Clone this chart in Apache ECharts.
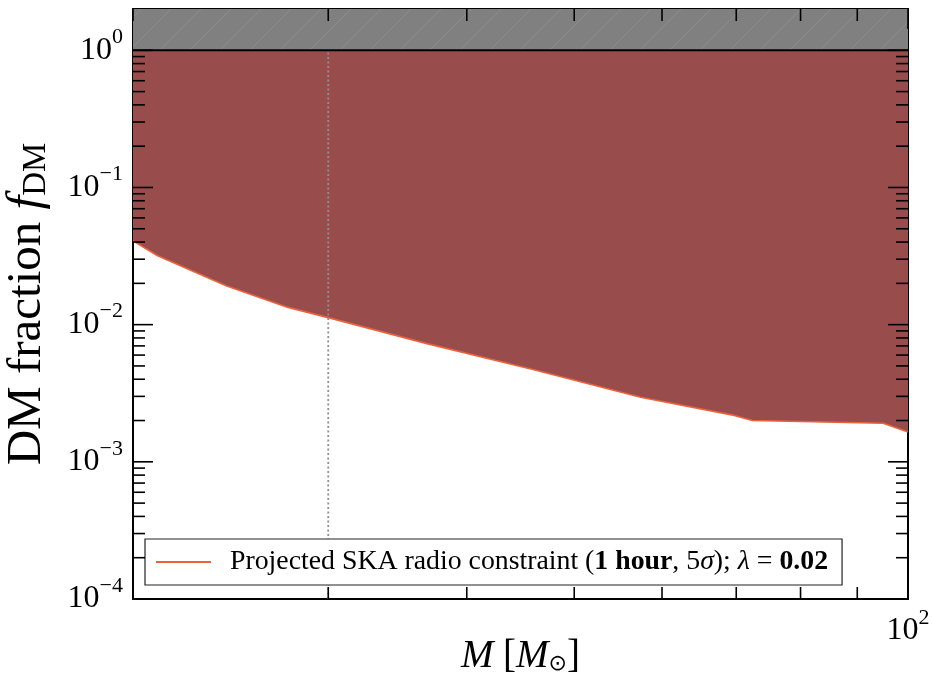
<!DOCTYPE html>
<html><head><meta charset="utf-8">
<script src="https://cdn.jsdelivr.net/npm/echarts@6/dist/echarts.min.js"></script>
<style>html,body{margin:0;padding:0;background:#fff}#c{width:932px;height:681px}</style>
</head><body><div id="c"></div>
<script>
// ---- data ----
const massValues = [20.0, 21.05, 24.3, 27.6, 30.0, 36.9, 45.9, 57.4, 69.7, 72.4, 95.0, 100];
const fdmValues  = [0.0408, 0.0318, 0.0191, 0.01336, 0.01125, 0.00724, 0.00471, 0.00296, 0.00218, 0.00200, 0.00191, 0.00165];
const xRange = [20, 100];
const yRange = [1e-4, 2];
const excludedLevel = 1;
const referenceMass = 30;
const yMajorTicks = [1e-4, 1e-3, 1e-2, 1e-1, 1];
const yMinorMultipliers = [2, 3, 4, 5, 6, 7, 8, 9];
const xMinorTicks = [20, 30, 40, 50, 60, 70, 80, 90];
const xMajorTicks = [100];
const seriesName = 'Projected SKA radio constraint';

const FONT = 'Liberation Serif';
const chart = echarts.init(document.getElementById('c'), null, {renderer: 'canvas'});

// hatch pattern for the grey band
const pat = document.createElement('canvas');
pat.width = 30; pat.height = 30;
const g = pat.getContext('2d');
g.fillStyle = '#808080'; g.fillRect(0, 0, 30, 30);
g.strokeStyle = '#8d8d8d'; g.lineWidth = 1;
g.beginPath();
g.moveTo(0, 30); g.lineTo(30, 0);
g.moveTo(-5, 5); g.lineTo(5, -5);
g.moveTo(25, 35); g.lineTo(35, 25);
g.stroke();

const curveData = massValues.map((m, i) => [m, fdmValues[i]]);
const refLineData = [[referenceMass, yRange[0]], [referenceMass, excludedLevel]];
const greyData = [[xRange[0], excludedLevel], [xRange[1], excludedLevel]];

function isPow10(v) {
  const e = Math.round(Math.log10(v));
  return Math.abs(v - Math.pow(10, e)) / Math.pow(10, e) < 1e-6 ? e : null;
}
const labelRich = {
  b: {fontFamily: FONT, fontSize: 32, color: '#000'},
  s: {fontFamily: FONT, fontSize: 22, color: '#000', padding: [0, 0, 26, 0]}
};

chart.setOption({
  animation: false,
  backgroundColor: '#fff',
  grid: {left: 133, right: 24, top: 9, bottom: 82, show: true, borderColor: '#000', borderWidth: 2,
         backgroundColor: 'transparent', containLabel: false, outerBoundsMode: 'none'},
  xAxis: {
    type: 'log', logBase: 10, min: xRange[0], max: xRange[1],
    axisLine: {show: true, lineStyle: {color: '#000', width: 2}},
    axisTick: {show: false}, splitLine: {show: false}, minorTick: {show: false},
    axisLabel: {
      margin: 8, showMinLabel: false,
      formatter: v => { const e = isPow10(v); return (e === null || v < 99) ? '' : '{b|10}{s|' + e + '}'; },
      rich: labelRich
    },
    name: '{i|M} {r|[}{i|M}{sub|⊙}{r|]}',
    nameLocation: 'middle', nameGap: 38, nameMoveOverlap: false,
    nameTextStyle: {
      fontFamily: FONT, fontSize: 38, color: '#000',
      rich: {
        i: {fontFamily: FONT, fontSize: 39, fontStyle: 'italic', color: '#000'},
        r: {fontFamily: FONT, fontSize: 39, color: '#000'},
        sub: {fontFamily: 'DejaVu Sans', fontSize: 22, color: '#000', padding: [16, 0, 0, 0]}
      }
    }
  },
  yAxis: {
    type: 'log', logBase: 10, min: yRange[0], max: yRange[1],
    axisLine: {show: true, lineStyle: {color: '#000', width: 2}},
    axisTick: {show: false}, splitLine: {show: false}, minorTick: {show: false},
    axisLabel: {
      margin: 10,
      formatter: v => { const e = isPow10(v); return e === null ? '' : '{b|10}{s|' + (e < 0 ? '−' + (-e) : e) + '}'; },
      rich: labelRich
    },
    name: '{r|DM fraction }{i|f}{sub|DM}',
    nameLocation: 'middle', nameGap: 80, nameRotate: 90, nameMoveOverlap: false,
    nameTextStyle: {
      fontFamily: FONT, fontSize: 49, color: '#000',
      rich: {
        r: {fontFamily: FONT, fontSize: 49, color: '#000'},
        i: {fontFamily: FONT, fontSize: 49, fontStyle: 'italic', color: '#000'},
        sub: {fontFamily: FONT, fontSize: 33, color: '#000', padding: [19, 0, 0, 0]}
      }
    }
  },
  legend: {
    data: [{name: seriesName, icon: 'rect'}],
    left: 145, top: 539,
    orient: 'horizontal',
    backgroundColor: '#fff', borderColor: '#222', borderWidth: 1.2, borderRadius: 0,
    padding: [9, 14, 9, 11],
    itemWidth: 55, itemHeight: 2,
    z: 50,
    formatter: () => '{p|Projected SKA radio constraint (}{b|1 hour}{r|, 5}{i|σ}{r|); }{i|λ}{r| = }{b|0.02}',
    textStyle: {
      fontFamily: FONT, fontSize: 27.8, color: '#000',
      rich: {
        p: {fontFamily: FONT, fontSize: 27.8, color: '#000', padding: [0, 0, 0, 14]},
        r: {fontFamily: FONT, fontSize: 27.8, color: '#000'},
        b: {fontFamily: FONT, fontSize: 27.8, fontWeight: 'bold', color: '#000'},
        i: {fontFamily: FONT, fontSize: 27.8, fontStyle: 'italic', color: '#000'}
      }
    }
  },
  series: [
    {
      name: seriesName, type: 'line', data: curveData, symbol: 'none', z: 2,
      lineStyle: {color: '#e8633c', width: 1.6},
      itemStyle: {color: '#e8633c'},
      areaStyle: {color: '#994c4c', opacity: 1, origin: 'end'}
    },
    {
      name: 'ref', type: 'line', data: refLineData, symbol: 'none', z: 3,
      lineStyle: {color: '#909090', width: 1.8, type: [2, 2.5]}
    },
    {
      name: 'excluded', type: 'line', data: greyData, symbol: 'none', z: 4,
      lineStyle: {color: '#000', width: 2},
      areaStyle: {color: {image: pat, repeat: 'repeat'}, opacity: 1, origin: 'end'}
    }
  ]
});

// matplotlib-style inward ticks on all four sides
const L = chart.convertToPixel({xAxisIndex: 0}, xRange[0]);
const R = chart.convertToPixel({xAxisIndex: 0}, xRange[1]);
const T = chart.convertToPixel({yAxisIndex: 0}, yRange[1]);
const B = chart.convertToPixel({yAxisIndex: 0}, yRange[0]);
const gfx = [];
function tick(x1, y1, x2, y2) {
  gfx.push({type: 'line', z: 100, silent: true, shape: {x1, y1, x2, y2}, style: {stroke: '#000', lineWidth: 1.6}});
}
yMajorTicks.forEach(v => {
  const py = chart.convertToPixel({yAxisIndex: 0}, v);
  tick(L, py, L + 20, py); tick(R - 20, py, R, py);
});
yMajorTicks.forEach(base => {
  yMinorMultipliers.forEach(m => {
    const v = base * m;
    if (v >= yRange[1] || base >= 1) return;
    const py = chart.convertToPixel({yAxisIndex: 0}, v);
    tick(L, py, L + 12, py); tick(R - 12, py, R, py);
  });
});
xMinorTicks.forEach(v => {
  const px = chart.convertToPixel({xAxisIndex: 0}, v);
  tick(px, B, px, B - 12); tick(px, T, px, T + 12);
});
xMajorTicks.forEach(v => {
  const px = chart.convertToPixel({xAxisIndex: 0}, v);
  tick(px, B, px, B - 20); tick(px, T, px, T + 20);
});
chart.setOption({graphic: gfx});
</script>
</body></html>
